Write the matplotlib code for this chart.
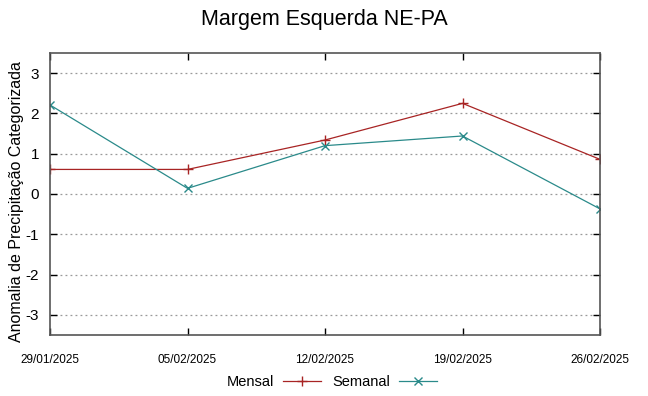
import matplotlib
matplotlib.use("Agg")
import matplotlib.pyplot as plt
from datetime import datetime

plt.rcParams['font.family'] = ['Liberation Sans', 'DejaVu Sans']

dates = ["29/01/2025", "05/02/2025", "12/02/2025", "19/02/2025", "26/02/2025"]
mensal = [0.61, 0.61, 1.34, 2.25, 0.86]
semanal = [2.21, 0.14, 1.20, 1.44, -0.37]
yticks = [-3, -2, -1, 0, 1, 2, 3]

x = [datetime.strptime(d, "%d/%m/%Y") for d in dates]

fig = plt.figure(figsize=(6.48, 3.96), dpi=100)
ax = fig.add_axes([50/648, 1-335/396, 550/648, 282/396])

ax.plot(x, mensal, color='#a82424', lw=0.9, marker='+', ms=6.5, mew=1.0, label='Mensal')
ax.plot(x, semanal, color='#2a8a8a', lw=0.9, marker='x', ms=5.5, mew=1.0, label='Semanal')

ax.set_xlim(x[0], x[-1])
ax.set_ylim(-3.5, 3.5)
ax.set_yticks(yticks)
ax.set_yticklabels([str(t) for t in yticks], fontsize=11)
ax.set_xticks(x)
ax.set_xticklabels(dates, fontsize=8.5)
ax.tick_params(axis='both', direction='in', top=True, right=True, length=5, width=1, color='black')
ax.tick_params(axis='x', pad=14)
ax.tick_params(axis='y', pad=8)
ax.yaxis.grid(True, linestyle=(0, (1.5, 2.5)), color='#999999', lw=0.9)
ax.set_axisbelow(True)
for s in ax.spines.values():
    s.set_color('#555555')
    s.set_linewidth(1.2)

ax.set_ylabel('Anomalia de Precipitação Categorizada', fontsize=11.5)
ax.yaxis.set_label_coords(-26/550, 0.5 - 7.5/282)
fig.text(0.5, 1-19/396, 'Margem Esquerda NE-PA', ha='center', va='center', fontsize=15.5)

leg = fig.legend(loc='center', bbox_to_anchor=(0.512, 1-382/396), ncol=2, frameon=False,
                 markerfirst=False, fontsize=10.5, handlelength=2.6, columnspacing=0.8,
                 handletextpad=0.6)

fig.savefig('out.png', dpi=100)
